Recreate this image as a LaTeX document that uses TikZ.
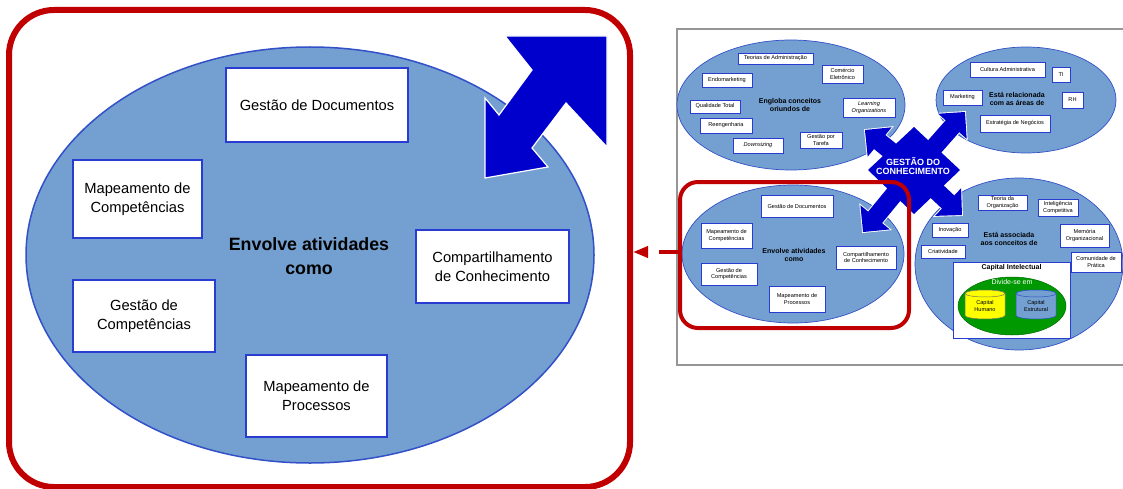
\documentclass[tikz,border=0pt]{standalone}
\usepackage{fontspec}
\setmainfont{Liberation Sans}
\usetikzlibrary{shapes.geometric,arrows.meta}
\definecolor{ellfill}{RGB}{115,160,208}
\definecolor{ellline}{RGB}{50,80,200}
\definecolor{boxline}{RGB}{40,60,210}
\definecolor{arrowblue}{RGB}{0,0,204}
\definecolor{framered}{RGB}{192,0,0}
\definecolor{framegray}{RGB}{150,150,150}
\definecolor{capgreen}{RGB}{0,153,0}
\definecolor{capyellow}{RGB}{255,255,0}
\definecolor{cylline}{RGB}{120,120,90}
\begin{document}
\begin{tikzpicture}[x=1pt,y=-1pt,
  blob/.style={ellipse,fill=ellfill,draw=ellline,inner sep=0pt},
  bigbox/.style={draw=boxline,fill=white,line width=1.4pt,align=center,inner sep=0pt,
    font=\fontsize{14.7pt}{19pt}\selectfont},
  smallbox/.style={draw=boxline,fill=white,line width=0.6pt,align=center,inner sep=0pt,
    font=\fontsize{5.6pt}{6.8pt}\selectfont},
  biglabel/.style={align=center,inner sep=0pt,font=\bfseries\fontsize{17.8pt}{24pt}\selectfont},
  smalllabel/.style={align=center,inner sep=0pt,font=\bfseries\fontsize{7pt}{8pt}\selectfont},
  redframe/.style={draw=framered,fill=none,inner sep=0pt},
]
\useasboundingbox (0,0) rectangle (1123,489);

% ---------- overview diagram ----------
\draw[framegray,line width=1.2pt] (677,29) rectangle (1135,365);

\node[blob,line width=0.7pt,minimum width=228pt,minimum height=130pt] (tl) at (791,105) {};
\node[blob,line width=0.7pt,minimum width=180pt,minimum height=106pt] (tr) at (1026,100) {};
\node[blob,line width=0.7pt,minimum width=222pt,minimum height=138pt] (bl) at (793,254) {};
\node[blob,line width=0.7pt,minimum width=208pt,minimum height=172pt] (br) at (1019,264) {};

% concepts
\node[smallbox,minimum width=75pt,minimum height=11pt] (s1) at (775.5,58.5) {Teorias de Administração};
\node[smallbox,minimum width=50pt,minimum height=14pt] (s2) at (727,80) {Endomarketing};
\node[smallbox,minimum width=41pt,minimum height=18pt] (s3) at (842.5,74) {Comércio\\Eletrônico};
\node[smallbox,minimum width=50pt,minimum height=13pt] (s4) at (715,106.5) {Qualidade Total};
\node[smallbox,minimum width=52pt,minimum height=19pt] (s5) at (869,107.5) {\itshape Learning\\\itshape Organizations};
\node[smallbox,minimum width=52pt,minimum height=15pt] (s6) at (726,125.5) {Reengenharia};
\node[smallbox,minimum width=50pt,minimum height=15pt] (s7) at (758,145.5) {\itshape Downsizing};
\node[smallbox,minimum width=42pt,minimum height=16pt] (s8) at (821,140) {Gestão por\\Tarefa};
\node[smalllabel] (tllab) at (790,105) {Engloba conceitos\\oriundos de};

% areas
\node[smallbox,minimum width=75pt,minimum height=15pt] (r1) at (1007.5,69.5) {Cultura Administrativa};
\node[smallbox,minimum width=18pt,minimum height=15pt] (r2) at (1061,74.5) {TI};
\node[smallbox,minimum width=39pt,minimum height=15pt] (r3) at (962.5,97.5) {Marketing};
\node[smallbox,minimum width=21pt,minimum height=16pt] (r4) at (1072.5,100) {RH};
\node[smallbox,minimum width=70pt,minimum height=17pt] (r5) at (1015,123.5) {Estratégia de Negócios};
\node[smalllabel] (trlab) at (1017,99) {Está relacionada\\com as áreas de};

% activities
\node[smallbox,minimum width=72pt,minimum height=22pt] (a1) at (797,206) {Gestão de Documentos};
\node[smallbox,minimum width=51pt,minimum height=25pt] (a2) at (726.5,235.5) {Mapeamento de\\Competências};
\node[smallbox,minimum width=60pt,minimum height=23pt] (a3) at (866,257.5) {Compartilhamento\\de Conhecimento};
\node[smallbox,minimum width=56pt,minimum height=22pt] (a4) at (729,274) {Gestão de\\Competências};
\node[smallbox,minimum width=56pt,minimum height=26pt] (a5) at (797,299) {Mapeamento de\\Processos};
\node[smalllabel] (bllab) at (794,255) {Envolve atividades\\como};

% associated concepts
\node[smallbox,minimum width=49pt,minimum height=15pt] (c1) at (1002.5,202.5) {Teoria da\\Organização};
\node[smallbox,minimum width=40pt,minimum height=17pt] (c2) at (1058,207.5) {Inteligência\\Competitiva};
\node[smallbox,minimum width=36pt,minimum height=14pt] (c3) at (950,230) {Inovação};
\node[smallbox,minimum width=49pt,minimum height=23pt] (c4) at (1084.5,235.5) {Memória\\Organizacional};
\node[smallbox,minimum width=44pt,minimum height=13pt] (c5) at (943,251.5) {Criatividade};
\node[smallbox,minimum width=50pt,minimum height=20pt] (c6) at (1096,262) {Comunidade de\\Prática};
\node[smalllabel] (brlab) at (1009,239) {Está associada\\aos conceitos de};

% intellectual capital
\node[smallbox,minimum width=117pt,minimum height=76pt] (ci) at (1011.5,300) {};
\node[smalllabel,anchor=center] (cititle) at ([yshift=-6pt]ci.north) {Capital Intelectual};
\node[ellipse,fill=capgreen,draw=capgreen!70!black,line width=0.5pt,inner sep=0pt,
      minimum width=108pt,minimum height=58pt] (green) at (1012,306) {};
\node[inner sep=0pt,text=white,font=\fontsize{7pt}{8pt}\selectfont] (divide) at (1012,282) {Divide-se em};
% cylinders
\fill[capyellow,draw=cylline,line width=0.5pt] (965,293.5) -- (965,315.5)
  arc[start angle=180,end angle=360,x radius=20pt,y radius=3.5pt] -- (1005,293.5)
  arc[start angle=0,end angle=180,x radius=20pt,y radius=3.5pt] -- cycle;
\draw[cylline,line width=0.5pt,fill=capyellow] (985,293.5) ellipse[x radius=20pt,y radius=3.5pt];
\fill[ellfill,draw=ellline,line width=0.5pt] (1016,293.5) -- (1016,315.5)
  arc[start angle=180,end angle=360,x radius=20pt,y radius=3.5pt] -- (1056,293.5)
  arc[start angle=0,end angle=180,x radius=20pt,y radius=3.5pt] -- cycle;
\draw[ellline,line width=0.5pt,fill=ellfill] (1036,293.5) ellipse[x radius=20pt,y radius=3.5pt];
\node[align=center,inner sep=0pt,font=\fontsize{5.6pt}{6.4pt}\selectfont] (hum) at (985,306) {Capital\\Humano};
\node[align=center,inner sep=0pt,font=\fontsize{5.6pt}{6.4pt}\selectfont] (est) at (1036,306) {Capital\\Estrutural};

% four-way arrow: a diamond body with an arrow on each side
\def\armpath#1{(0,-9) -- (#1-19,-9) -- (#1-19,-19) -- (#1,0) -- (#1-19,19) -- (#1-19,9) -- (0,9) -- cycle}
\begin{scope}[shift={(914,170)}]
  % white rim round the whole shape
  \begin{scope}[white,line width=1.8pt,line join=miter]
    \draw (0,-43) -- (46,0) -- (0,44) -- (-46,0) -- cycle;
    \foreach \ang/\len in {48.7/77.2,140.8/63.3,230.6/80.3,316.8/65.8}
      \draw[rotate=\ang] \armpath{\len};
  \end{scope}
  \fill[arrowblue] (0,-43) -- (46,0) -- (0,44) -- (-46,0) -- cycle;
  \foreach \ang/\len in {48.7/77.2,140.8/63.3,230.6/80.3,316.8/65.8}
    \fill[arrowblue,rotate=\ang] \armpath{\len};
\end{scope}
\node[align=center,inner sep=0pt,text=white,font=\bfseries\fontsize{9pt}{9.8pt}\selectfont] (gc) at (913,166) {GESTÃO DO\\CONHECIMENTO};

\node[redframe,line width=4pt,rounded corners=18pt,minimum width=229pt,minimum height=146pt] (smallframe) at (794.5,255) {};

% ---------- enlarged detail ----------
\node[blob,line width=1.5pt,minimum width=568pt,minimum height=416pt] (big) at (310,255) {};
\filldraw[fill=arrowblue,draw=white,line width=1.2pt,line join=miter]
  (505,36) -- (607,36) -- (607,147) -- (566,103) -- (532,148) -- (548,167) -- (485,178)
  -- (485,98) -- (499,115) -- (532,70) -- cycle;

\node[bigbox,minimum width=182pt,minimum height=74pt] (bGD) at (317,105) {Gestão de Documentos};
\node[bigbox,minimum width=129pt,minimum height=78pt] (bMC) at (137.5,199) {Mapeamento de\\Competências};
\node[bigbox,minimum width=153pt,minimum height=73pt] (bCC) at (492.5,266.5) {Compartilhamento\\de Conhecimento};
\node[bigbox,minimum width=142pt,minimum height=72pt] (bGC) at (144,316) {Gestão de\\Competências};
\node[bigbox,minimum width=141pt,minimum height=82pt] (bMP) at (316.5,396) {Mapeamento de\\Processos};
\node[biglabel] (blab) at (309,256) {Envolve atividades\\como};

\node[redframe,line width=6pt,rounded corners=45pt,minimum width=621pt,minimum height=477pt] (bigframe) at (319.5,248.5) {};

% link from the overview to the enlarged detail
\coordinate (linkstart) at ([yshift=3pt]smallframe.west);
\draw[framered,line width=3.5pt,dash pattern=on 19pt off 11pt,-{Triangle[length=15pt,width=11pt]}]
  (linkstart) -- (bigframe.east |- linkstart);
\end{tikzpicture}
\end{document}
